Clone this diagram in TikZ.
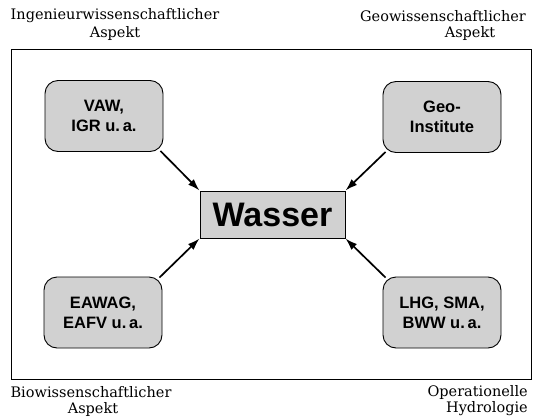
\documentclass[tikz,border=0pt]{standalone}
\usepackage{fontspec}
\setmainfont{DejaVu Serif}
\newfontfamily\boxfont{Liberation Sans}
\usetikzlibrary{arrows.meta}
\definecolor{stip}{gray}{0.82}
\tikzset{
  inst/.style={draw=black, line width=0.9pt, rounded corners=13pt, fill=stip,
    minimum width=118pt, minimum height=71pt, align=center, inner sep=0pt,
    font=\boxfont\bfseries\fontsize{16.5}{20}\selectfont},
  core/.style={draw=black, line width=1pt, fill=stip, minimum width=145pt,
    minimum height=47pt, inner sep=0pt, font=\boxfont\bfseries\fontsize{34}{36}\selectfont},
  lbl/.style={inner sep=0pt, font=\fontsize{14.5}{17}\selectfont},
  conn/.style={line width=1.7pt, -{Latex[length=12pt,width=8pt]}},
}
\begin{document}
\begin{tikzpicture}[x=1pt,y=-1pt]
\useasboundingbox (0,0) rectangle (539,418);
\node[draw=black, line width=1pt, minimum width=520pt, minimum height=330pt, inner sep=0pt] (frame) at (271,214) {};
\node[core] (w) at (272.5,214.5) {Wasser};
\node[inst] (tl) at (104,116) {VAW,\\IGR u.\,a.};
\node[inst] (tr) at (442,117) {Geo-\\Institute};
\node[inst] (bl) at (103,312.5) {EAWAG,\\EAFV u.\,a.};
\node[inst] (br) at (442,312.5) {LHG, SMA,\\BWW u.\,a.};
\draw[conn] ([shift={(-3,-1)}]tl.south east) -- (w.north west);
\draw[conn] ([shift={(3,-1)}]tr.south west) -- (w.north east);
\draw[conn] ([shift={(-3,1)}]bl.north east) -- (w.south west);
\draw[conn] ([shift={(3,1)}]br.north west) -- (w.south east);
\node[lbl] (l1a) at (115,16) {Ingenieurwissenschaftlicher};
\node[lbl] (l1b) at (115,33) {Aspekt};
\node[lbl] (l2a) at (443,16) {Geowissenschaftlicher};
\node[lbl] (l2b) at (470,33) {Aspekt};
\node[lbl] (l3a) at (91,392) {Biowissenschaftlicher};
\node[lbl] (l3b) at (93,409) {Aspekt};
\node[lbl, anchor=east] (l4a) at (528,392) {Operationelle};
\node[lbl, anchor=east] (l4b) at (528,409) {Hydrologie};
\end{tikzpicture}
\end{document}
